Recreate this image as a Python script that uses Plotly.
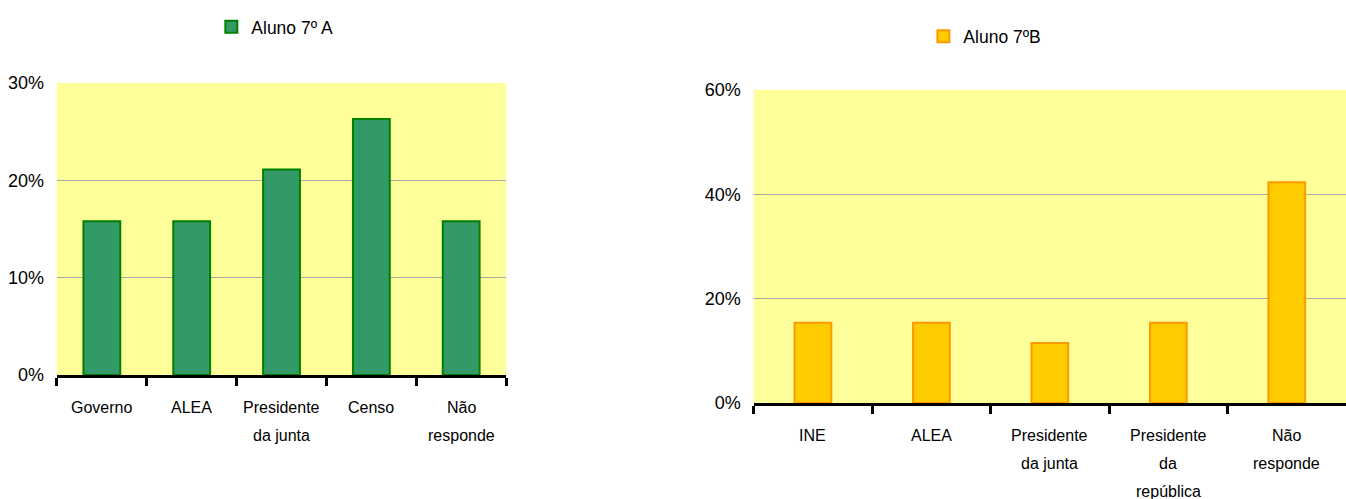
import plotly.graph_objects as go

# Responses of class 7º A
cats_a = ["Governo", "ALEA", "Presidente da junta", "Censo", "Não responde"]
labels_a = [["Governo"], ["ALEA"], ["Presidente", "da junta"], ["Censo"], ["Não", "responde"]]
vals_a = [15.8, 15.8, 21.1, 26.3, 15.8]

# Responses of class 7º B
cats_b = ["INE", "ALEA", "Presidente da junta", "Presidente da república", "Não responde"]
labels_b = [["INE"], ["ALEA"], ["Presidente", "da junta"], ["Presidente", "da", "república"],
            ["Não", "responde"]]
vals_b = [15.4, 15.4, 11.5, 15.4, 42.3]

yticks_a = [0, 10, 20, 30]
yticks_b = [0, 20, 40, 60]

FONT = "Liberation Sans, Arial, sans-serif"

fig = go.Figure()
fig.add_trace(go.Bar(
    x=cats_a, y=vals_a, name="Aluno 7º A", width=0.41,
    marker=dict(color="#339966", line=dict(color="#008000", width=2)),
    xaxis="x", yaxis="y", legend="legend", showlegend=True,
))
fig.add_trace(go.Bar(
    x=cats_b, y=vals_b, name="Aluno 7ºB", width=0.31,
    marker=dict(color="#FFCC00", line=dict(color="#FF9900", width=2)),
    xaxis="x2", yaxis="y2", legend="legend2", showlegend=True,
))

xcommon = dict(
    showline=True, linecolor="black", linewidth=3,
    ticks="outside", tickson="boundaries", ticklen=8, tickwidth=3, tickcolor="black",
    showgrid=False, showticklabels=False, automargin=False, fixedrange=True,
)
ycommon = dict(
    showline=False, ticks="", showgrid=True, gridcolor="#a8a8a8", gridwidth=1,
    zeroline=False, tickfont=dict(size=18, color="black", family=FONT),
    ticklabelstandoff=12, automargin=False, fixedrange=True,
)

# Category labels, one line per annotation, hung below each axis
annotations = []
for xref, yref, cats, labels in (("x", "y", cats_a, labels_a), ("x2", "y2", cats_b, labels_b)):
    for cat, lines in zip(cats, labels):
        for i, line in enumerate(lines):
            annotations.append(dict(
                x=cat, y=0, xref=xref, yref=yref, text=line, showarrow=False,
                xanchor="center", yanchor="middle", yshift=-33 - 28 * i,
                font=dict(size=16, color="black", family=FONT),
            ))

fig.update_layout(
    width=1346, height=499,
    margin=dict(l=0, r=0, t=0, b=0, autoexpand=False),
    showlegend=True,
    paper_bgcolor="white", plot_bgcolor="#FFFF99",
    font=dict(family=FONT, color="black"),
    barmode="group",
    xaxis=dict(domain=[0.0423, 0.376], anchor="y", **xcommon),
    yaxis=dict(domain=[0.2485, 0.8337], anchor="x", range=[0, 30],
               tickvals=yticks_a, ticktext=[f"{v}%" for v in yticks_a], **ycommon),
    xaxis2=dict(domain=[0.560, 1.0], anchor="y2", **xcommon),
    yaxis2=dict(domain=[0.1924, 0.8196], anchor="x2", range=[0, 60],
                tickvals=yticks_b, ticktext=[f"{v}%" for v in yticks_b], **ycommon),
    legend=dict(x=0.157, y=0.946, xanchor="left", yanchor="middle",
                orientation="h", font=dict(size=17.5, family=FONT),
                bgcolor="rgba(0,0,0,0)", itemwidth=30),
    legend2=dict(x=0.686, y=0.927, xanchor="left", yanchor="middle",
                 orientation="h", font=dict(size=17.5, family=FONT),
                 bgcolor="rgba(0,0,0,0)", itemwidth=30),
    annotations=annotations,
)

fig.write_html("out.html")
